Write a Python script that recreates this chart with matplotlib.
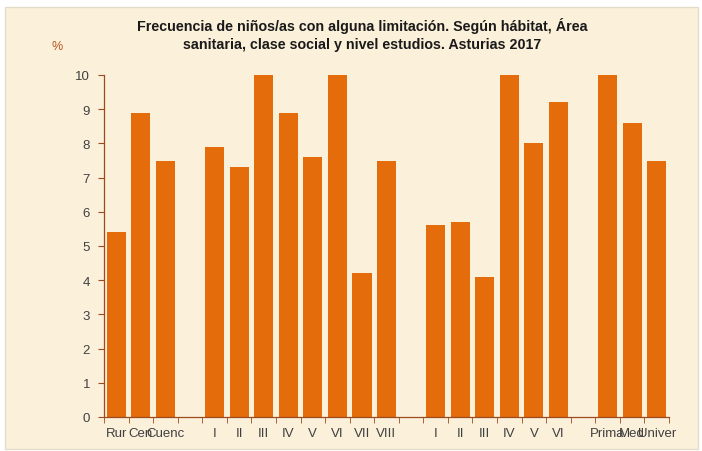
import matplotlib
matplotlib.use("Agg")
import matplotlib.pyplot as plt
from matplotlib.patches import Rectangle

categories = ["Rur", "Cen", "Cuenc", "",
              "I", "II", "III", "IV", "V", "VI", "VII", "VIII", "",
              "I", "II", "III", "IV", "V", "VI", "",
              "Prima", "Med", "Univer"]
values = [5.4, 8.9, 7.5, None,
          7.9, 7.3, 10.0, 8.9, 7.6, 10.0, 4.2, 7.5, None,
          5.6, 5.7, 4.1, 10.0, 8.0, 9.2, None,
          10.0, 8.6, 7.5]
yticks = list(range(0, 11))

title = ("Frecuencia de niños/as con alguna limitación. Según hábitat, Área\n"
         "sanitaria, clase social y nivel estudios. Asturias 2017")

plt.rcParams['font.family'] = ['Liberation Sans', 'DejaVu Sans']

fig = plt.figure(figsize=(7.02, 4.52), dpi=100)
fig.patch.set_facecolor('white')
bg = Rectangle((5 / 702, 2 / 452), 693 / 702, 442 / 452, transform=fig.transFigure,
               facecolor='#FBF0DA', edgecolor='#E4DCCB', linewidth=1, zorder=-10)
fig.patches.append(bg)

ax = fig.add_axes([104 / 702, 1 - 418 / 452, 565 / 702, (418 - 76) / 452])
ax.set_facecolor('none')
ax.set_zorder(5)

xs = [i for i, v in enumerate(values) if v is not None]
vs = [v for v in values if v is not None]
ax.bar(xs, vs, width=0.78, color='#E46C0A', zorder=2)

ax.set_xlim(-0.5, len(categories) - 0.5)
ax.set_ylim(0, 10)

spine_col = '#9C4A1E'
for s in ['top', 'right']:
    ax.spines[s].set_visible(False)
ax.spines['left'].set_color(spine_col)
ax.spines['bottom'].set_color(spine_col)
ax.spines['left'].set_linewidth(0.9)
ax.spines['bottom'].set_linewidth(0.9)

ax.set_yticks(yticks)
ax.set_yticklabels([str(t) for t in yticks])
ax.tick_params(axis='y', colors=spine_col, labelcolor='#404040', labelsize=9.5,
               length=4, direction='out', pad=6)

ax.set_xticks(range(len(categories)))
ax.set_xticklabels(categories)
ax.tick_params(axis='x', which='major', length=0, labelcolor='#404040', labelsize=9.5, pad=7)
ax.set_xticks([i - 0.5 for i in range(len(categories) + 1)], minor=True)
ax.tick_params(axis='x', which='minor', length=4, color=spine_col, direction='out')

fig.text(362 / 702, 1 - 35 / 452, title, ha='center', va='center',
         fontsize=10.3, fontweight='bold', color='#1a1a1a', linespacing=1.3)
fig.text(57 / 702, 1 - 47 / 452, '%', ha='center', va='center',
         fontsize=9, color='#B4541E')

fig.savefig('out.png', dpi=100, facecolor=fig.get_facecolor())
